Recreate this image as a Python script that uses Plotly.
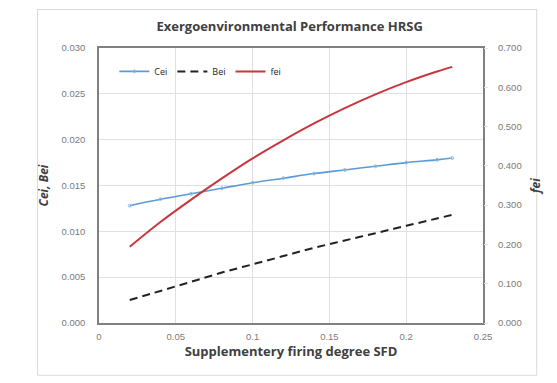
import plotly.graph_objects as go

x_sfd = [0.02, 0.04, 0.06, 0.08, 0.10, 0.12, 0.14, 0.16, 0.18, 0.20, 0.22, 0.23]
cei = [0.0128, 0.0135, 0.0141, 0.0147, 0.0153, 0.0158, 0.0163, 0.0167, 0.0171, 0.0175, 0.0178, 0.0180]
bei = [0.0025, 0.0035, 0.0045, 0.0055, 0.0064, 0.0073, 0.0082, 0.0090, 0.0098, 0.0106, 0.0114, 0.0118]
fei = [0.194, 0.257, 0.314, 0.368, 0.419, 0.465, 0.508, 0.547, 0.582, 0.613, 0.640, 0.652]

fig = go.Figure()
fig.add_trace(go.Scatter(x=x_sfd, y=cei, name="Cei", mode="lines+markers",
                         line=dict(color="#5b9bd5", width=1.6, shape="spline"),
                         marker=dict(symbol="circle-open", size=3, color="#8fbde3")))
fig.add_trace(go.Scatter(x=x_sfd, y=bei, name="Bei", mode="lines",
                         line=dict(color="#222222", width=2, dash="8px,5px", shape="spline")))
fig.add_trace(go.Scatter(x=x_sfd, y=fei, name="fei", mode="lines", yaxis="y2",
                         line=dict(color="#c8363e", width=2, shape="spline")))

tickfont = dict(family="Liberation Sans, Arial", size=9.5, color="#7a7a7a")
fig.update_layout(
    width=557, height=383,
    margin=dict(l=99, r=74, t=48, b=60),
    paper_bgcolor="white", plot_bgcolor="white",
    font=dict(family="Open Sans, Liberation Sans", color="#333"),
    title=dict(text="<b>Exergoenvironmental Performance HRSG</b>", x=0.52, xanchor="center",
               y=0.93, yanchor="middle", font=dict(size=13, color="#404040")),
    xaxis=dict(range=[0, 0.25], dtick=0.05, showgrid=True, gridcolor="#e0e0e0",
               showline=True, linecolor="#808080", linewidth=1.5, mirror=True,
               ticks="", tickfont=tickfont, zeroline=False, ticklabelstandoff=4,
               title=dict(text="<b>Supplementery firing degree SFD</b>", standoff=6,
                          font=dict(size=13, color="#404040"))),
    yaxis=dict(range=[0, 0.030], dtick=0.005, tickformat=".3f", showgrid=True,
               gridcolor="#e0e0e0", showline=True, linecolor="#808080", linewidth=1.5,
               mirror=True, ticks="", tickfont=tickfont, zeroline=False, ticklabelstandoff=10,
               title=dict(text="<b><i>Cei, Bei</i></b>", standoff=10,
                          font=dict(size=12, color="#404040"))),
    yaxis2=dict(range=[0, 0.700], dtick=0.1, tickformat=".3f", overlaying="y", side="right",
                showgrid=False, ticks="outside", ticklen=4, tickcolor="#e0e0e0",
                tickfont=tickfont, zeroline=False, ticklabelstandoff=8,
                title=dict(text="<b><i>fei</i></b>", standoff=10,
                           font=dict(size=12, color="#404040"))),
    legend=dict(orientation="h", x=0.04, y=0.915, xanchor="left", yanchor="middle",
                bgcolor="rgba(0,0,0,0)", font=dict(size=9, color="#222", family="Open Sans"),
                itemwidth=30, tracegroupgap=0),
    showlegend=True,
)
fig.add_shape(type="rect", xref="paper", yref="paper", x0=-0.16, x1=1.14, y0=-0.19, y1=1.14,
              line=dict(color="#d9d9d9", width=1), layer="below")
fig.write_html("out.html")
